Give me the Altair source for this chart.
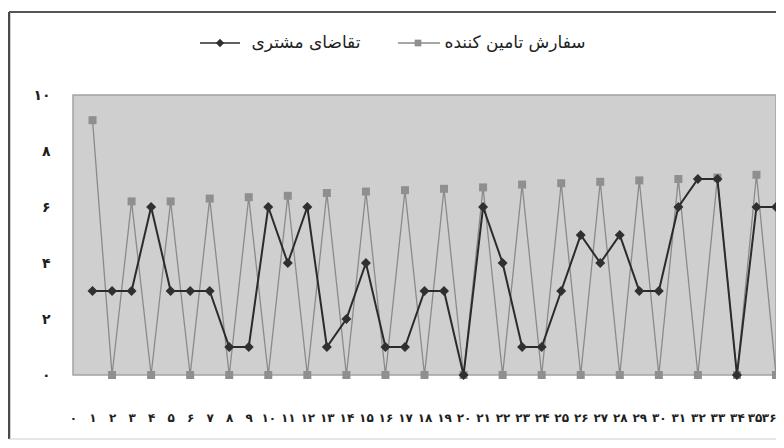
import json
import altair as alt
import pandas as pd

# ---- data ----
periods = list(range(1, 37))
demand = [3, 3, 3, 6, 3, 3, 3, 1, 1, 6, 4, 6, 1, 2, 4, 1, 1, 3, 3, 0,
          6, 4, 1, 1, 3, 5, 4, 5, 3, 3, 6, 7, 7, 0, 6, 6]
supplier = [9.1, 0, 6.2, 0, 6.2, 0, 6.3, 0, 6.35, 0, 6.4, 0, 6.5, 0, 6.55, 0,
            6.6, 0, 6.65, 0, 6.7, 0, 6.8, 0, 6.85, 0, 6.9, 0, 6.95, 0,
            7.0, 0, 7.05, 0, 7.15, 0]
series_names = ["تقاضای مشتری", "سفارش تامین کننده"]
x_tick_values = list(range(0, 37))
x_tick_labels = ["۰", "۱", "۲", "۳", "۴", "۵", "۶", "۷", "۸", "۹", "۱۰",
                 "۱۱", "۱۲", "۱۳", "۱۴", "۱۵", "۱۶", "۱۷", "۱۸", "۱۹", "۲۰",
                 "۲۱", "۲۲", "۲۳", "۲۴", "۲۵", "۲۶", "۲۷", "۲۸", "۲۹", "۳۰",
                 "۳۱", "۳۲", "۳۳", "۳۴", "۳۵", "۳۶"]
y_tick_values = [0, 2, 4, 6, 8, 10]
y_tick_labels = ["۰", "۲", "۴", "۶", "۸", "۱۰"]

dem_df = pd.DataFrame({"t": periods, "v": demand})
sup_df = pd.DataFrame({"t": periods, "v": supplier})
one = pd.DataFrame({"a": [0]})

FONT = "DejaVu Sans"
DEM_COLOR = "#2b2b2b"
SUP_COLOR = "#8a8a8a"
W, H = 703, 280

x_enc = alt.X(
    "t:Q",
    scale=alt.Scale(domain=[0, 36], nice=False, zero=True),
    axis=alt.Axis(
        values=x_tick_values,
        labelExpr=json.dumps(x_tick_labels, ensure_ascii=False) + "[datum.value]",
        ticks=False, domain=False, grid=False, title=None,
        labelPadding=37, labelFont=FONT, labelFontSize=12, labelColor="#1e1e1e",
        labelFontWeight="bold", labelOverlap=False, labelFlush=False,
        labelAlign={"condition": {"test": "datum.value == 36", "value": "right"},
                    "value": "center"},
        labelOffset={"condition": {"test": "datum.value == 35", "value": -2},
                     "value": 0},
    ),
)
y_enc = alt.Y(
    "v:Q",
    scale=alt.Scale(domain=[0, 10], nice=False),
    axis=alt.Axis(
        values=y_tick_values,
        labelExpr=json.dumps(y_tick_labels, ensure_ascii=False) + "[datum.value / 2]",
        ticks=False, domain=False, grid=False, title=None,
        labelPadding=23, labelFont=FONT, labelFontSize=14, labelColor="#1e1e1e",
        labelFontWeight="bold",
    ),
)

sup_line = alt.Chart(sup_df).mark_line(color=SUP_COLOR, strokeWidth=1.3).encode(x=x_enc, y=y_enc)
sup_pts = alt.Chart(sup_df).mark_point(
    shape="square", filled=True, size=64, color="#8f8f8f", opacity=1
).encode(x=x_enc, y=y_enc)
dem_line = alt.Chart(dem_df).mark_line(color=DEM_COLOR, strokeWidth=2).encode(x=x_enc, y=y_enc)
dem_pts = alt.Chart(dem_df).mark_point(
    shape="diamond", filled=True, size=100, color="#303030", opacity=1
).encode(x=x_enc, y=y_enc)

# ---- legend (decoration) ----
LY = -52
leg = [
    alt.Chart(one).mark_rule(color=DEM_COLOR, strokeWidth=1.5).encode(
        x=alt.value(127), x2=alt.value(167), y=alt.value(LY)),
    alt.Chart(one).mark_point(shape="diamond", filled=True, size=70, color="#303030", opacity=1).encode(
        x=alt.value(147), y=alt.value(LY)),
    alt.Chart(one).mark_text(text=series_names[0], font=FONT, fontSize=17, color="#222222",
                             align="center", baseline="middle").encode(
        x=alt.value(233), y=alt.value(LY)),
    alt.Chart(one).mark_rule(color=SUP_COLOR, strokeWidth=1.5).encode(
        x=alt.value(325), x2=alt.value(367), y=alt.value(LY)),
    alt.Chart(one).mark_point(shape="square", filled=True, size=45, color="#8f8f8f", opacity=1).encode(
        x=alt.value(345), y=alt.value(LY)),
    alt.Chart(one).mark_text(text=series_names[1], font=FONT, fontSize=17, color="#222222",
                             align="center", baseline="middle").encode(
        x=alt.value(442), y=alt.value(LY)),
]

# ---- outer frame (decoration) ----
frame = [
    alt.Chart(one).mark_rule(color="#4a4a4a", strokeWidth=2.5).encode(
        x=alt.value(-64), y=alt.value(-83), y2=alt.value(344)),
    alt.Chart(one).mark_rule(color="#555555", strokeWidth=2).encode(
        x=alt.value(-64), x2=alt.value(W + 10), y=alt.value(-83)),
    alt.Chart(one).mark_rule(color="#cccccc", strokeWidth=1).encode(
        x=alt.value(-64), x2=alt.value(W + 10), y=alt.value(344)),
]

chart = alt.layer(sup_line, sup_pts, dem_line, dem_pts, *leg, *frame).properties(
    width=W, height=H,
    background="white",
    autosize=alt.AutoSizeParams(type="none"),
    padding={"left": 65, "top": 87, "right": 0, "bottom": 65},
).configure_view(
    fill="#cfcfcf", stroke="#a3a3a3", strokeWidth=1.5
)

chart.save("out.html", embed_options={"renderer": "svg", "actions": False})
